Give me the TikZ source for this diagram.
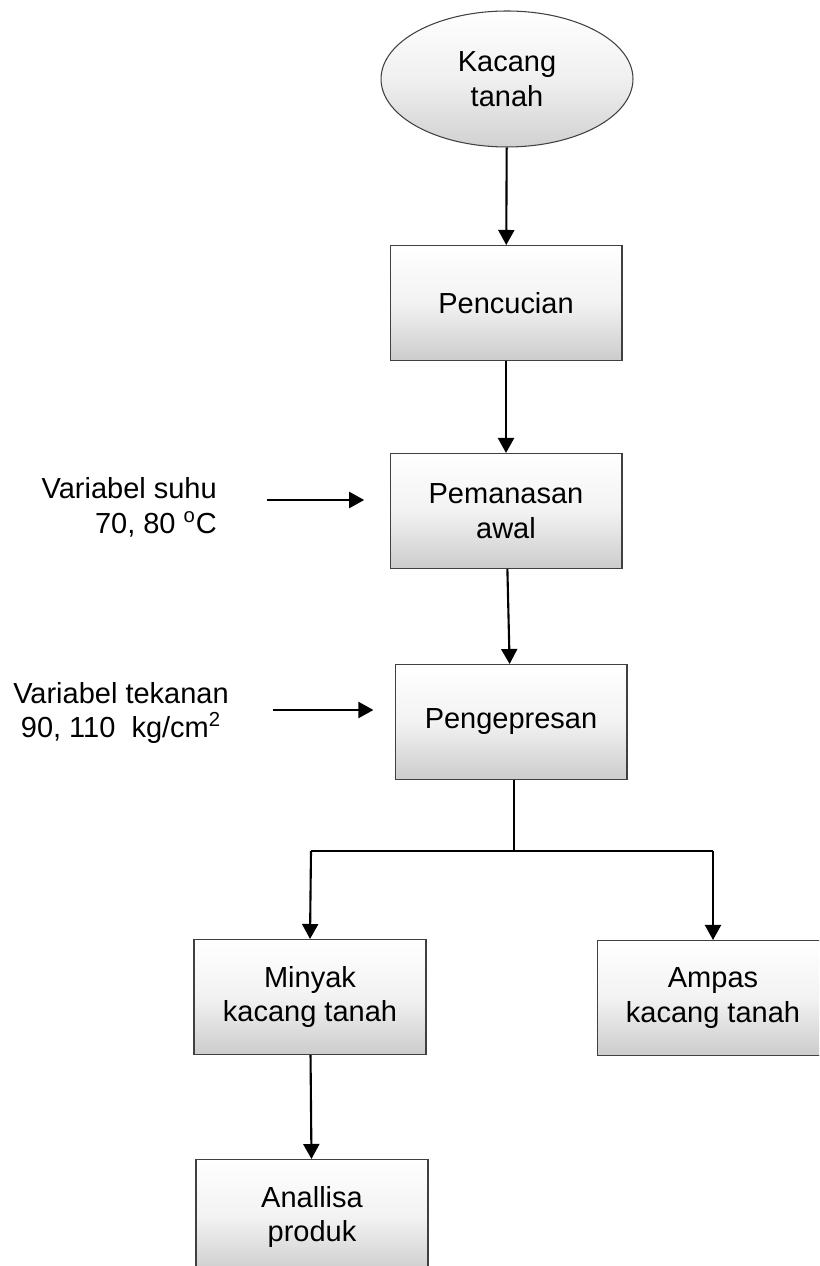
\documentclass[tikz,border=0pt]{standalone}
\usepackage{fontspec}
\setmainfont{Liberation Sans}
\usetikzlibrary{shapes.geometric,arrows.meta}

\tikzset{
  proses/.style={draw=black!75,line width=0.6pt,rectangle,inner sep=0pt,
    minimum width=4.64cm,minimum height=2.3cm,align=center,
    top color=white,bottom color=black!20,middle color=white!95!black},
  awal/.style={draw=black!75,line width=0.6pt,ellipse,inner sep=0pt,
    minimum width=5.04cm,minimum height=2.72cm,align=center,
    top color=white,bottom color=black!18,middle color=white!94!black},
  panah/.style={line width=1.2pt,-{Triangle[length=0.3cm,width=0.32cm]}},
  garis/.style={line width=0.6pt}
}

\begin{document}
\begin{tikzpicture}[x=0.02cm,y=-0.02cm,font=\fontsize{16.5pt}{19.9pt}\selectfont]
    \clip (0,0) rectangle (819,1266);

    \node[awal](kacang)at(507,79){Kacang\\tanah};
    \node[proses](cuci)at(506,303){Pencucian};
    \node[proses](panas)at(506,511){Pemanasan\\awal};
    \node[proses](press)at(511,722){Pengepresan};
    \node[proses](minyak)at(310,997){Minyak\\kacang tanah};
    \node[proses](ampas)at(713,998){Ampas\\kacang tanah};
    \node[proses](analisa)at(312,1217){Anallisa\\produk};

    \node[align=right,anchor=east](suhu)at(223,507){Variabel suhu\\70, 80 \textsuperscript{o}C};
    \node[align=center](tekan)at(121,713){Variabel tekanan\\90, 110\ \ kg/cm\textsuperscript{2}};

    \coordinate (suhuin) at (267,500);
    \coordinate (tekanin) at (273,710);
    \coordinate (cabang) at (514,851);
    \coordinate (kiri) at (311,851);
    \coordinate (kanan) at (713,851);

    \draw[panah] (kacang) to (cuci);
    \draw[panah] (cuci) to (panas);
    \draw[panah] (panas) to (press);
    \draw[panah,shorten >=12\pgflinewidth] (suhuin) to (suhuin -| panas.west);
    \draw[panah,shorten >=10\pgflinewidth] (tekanin) to (tekanin -| press.west);
    \draw[garis] (press.south -| cabang) to (cabang);
    \draw[garis] (kiri) to (kanan);
    \draw[panah] (kiri) to (minyak.north);
    \draw[panah] (kanan) to (ampas.north);
    \draw[panah] (minyak) to (analisa);
  \end{tikzpicture}
\end{document}
